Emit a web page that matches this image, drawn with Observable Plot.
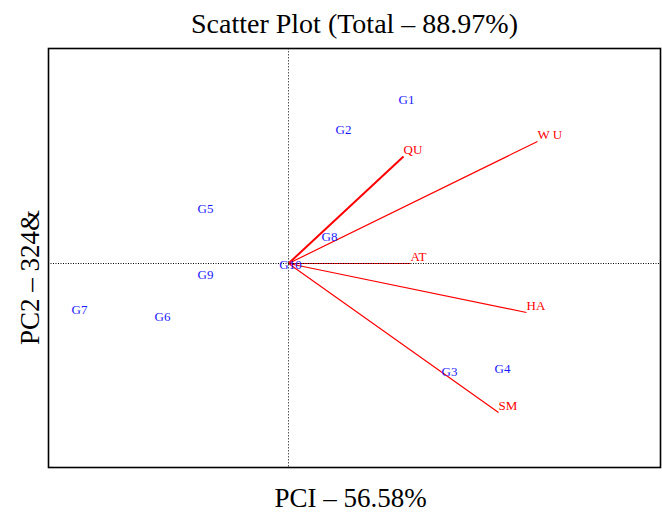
<!DOCTYPE html>
<html>
<head>
<meta charset="utf-8">
<script src="https://cdn.jsdelivr.net/npm/d3@7"></script>
<script src="https://cdn.jsdelivr.net/npm/@observablehq/plot@0.6"></script>
<style>
  body { margin: 0; background: #fff; }
</style>
</head>
<body>
<div id="chart"></div>
<script>
const genotypes = ["G1","G2","G3","G4","G5","G6","G7","G8","G9","G10"];
const genoPC1 = [1.18, 0.55, 1.61, 2.14, -0.83, -1.26, -2.09, 0.41, -0.83, 0.02];
const genoPC2 = [1.64, 1.34, -1.08, -1.05, 0.55, -0.53, -0.46, 0.27, -0.11, -0.01];

const traits = ["QU","W U","AT","HA","SM"];
const traitPC1 = [1.15, 2.49, 1.22, 2.38, 2.10];
const traitPC2 = [1.07, 1.22, 0.00, -0.49, -1.49];

const titleText = "Scatter Plot (Total – 88.97%)";
const xLabel = "PCI – 56.58%";
const yLabel = "PC2 – 324&";

const geno = genotypes.map((g, i) => ({name: g, x: genoPC1[i], y: genoPC2[i]}));
const tr = traits.map((t, i) => ({name: t, x: traitPC1[i], y: traitPC2[i]}));

const serif = "'Liberation Serif', 'DejaVu Serif', serif";

const plot = Plot.plot({
  width: 662,
  height: 512,
  marginLeft: 48,
  marginRight: 2,
  marginTop: 48,
  marginBottom: 45,
  x: {domain: [-2.40, 3.72], axis: null},
  y: {domain: [-2.04, 2.15], axis: null},
  style: {background: "#fff"},
  marks: [
    Plot.link(tr, {x1: 0, y1: 0, x2: "x", y2: "y", stroke: "#ff0000", strokeWidth: d => d.name === "QU" ? 2 : 1.2}),
    Plot.ruleX([0], {stroke: "#555", strokeDasharray: "1.5,1.5", strokeWidth: 1}),
    Plot.ruleY([0], {stroke: "#000", strokeDasharray: "1,1.5", strokeWidth: 1}),
    Plot.text(tr, {x: "x", y: "y", text: "name", fill: "#ff0000", textAnchor: "start", dy: -7, fontSize: 13, fontFamily: serif}),
    Plot.text(geno, {x: "x", y: "y", text: "name", fill: "#1a1aff", fontSize: 13, fontFamily: serif}),
    Plot.frame({stroke: "#000", strokeWidth: 1.6}),
    Plot.text([titleText], {frameAnchor: "top", lineAnchor: "middle", textAnchor: "middle", dy: -24.5, fontSize: 28, fontFamily: serif, fill: "#000"}),
    Plot.text([xLabel], {frameAnchor: "bottom", lineAnchor: "middle", textAnchor: "middle", dx: -4, dy: 30.5, fontSize: 27, fontFamily: serif, fill: "#000"}),
    Plot.text([yLabel], {frameAnchor: "left", lineAnchor: "middle", textAnchor: "middle", dx: -18, dy: 19.5, rotate: -90, fontSize: 27, fontFamily: serif, fill: "#000"})
  ]
});
document.getElementById("chart").appendChild(plot);
</script>
</body>
</html>
